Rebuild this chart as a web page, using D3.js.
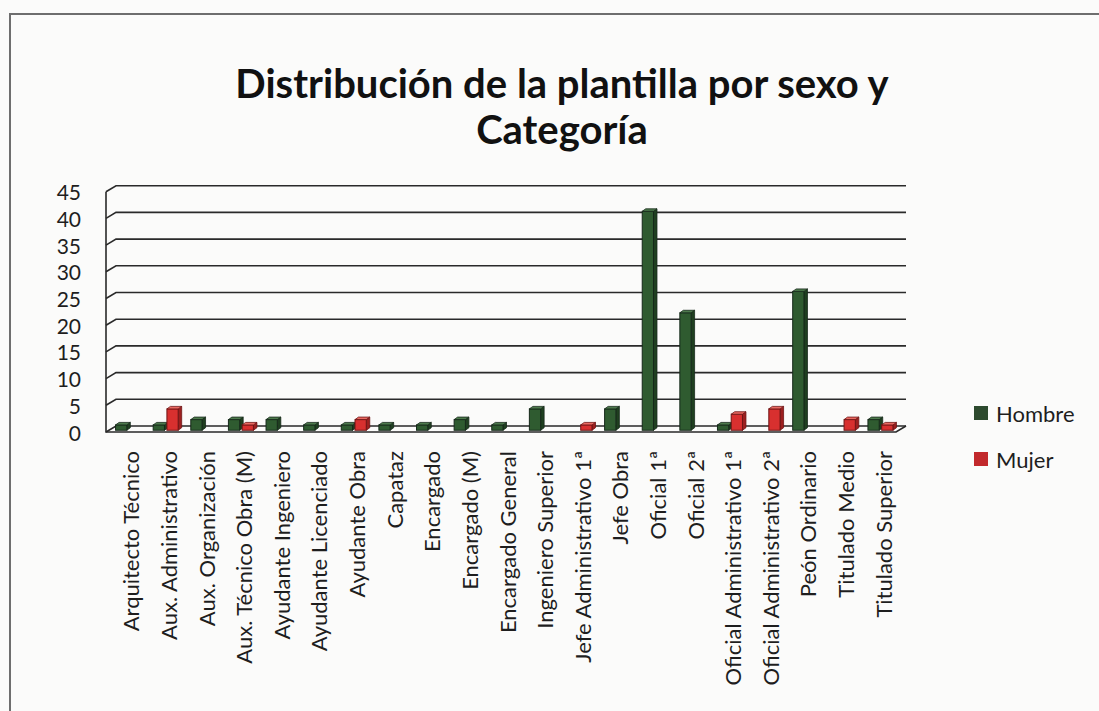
<!DOCTYPE html>
<html>
<head>
<meta charset="utf-8">
<script src="https://cdn.jsdelivr.net/npm/d3@7/dist/d3.min.js"></script>
<style>
  html, body { margin: 0; padding: 0; background: #fbfbfa; }
  svg { display: block; }
  text { font-family: Lato, "Open Sans", "DejaVu Sans", sans-serif; fill: #1e1e1e; }
</style>
</head>
<body>
<svg id="chart" width="1099" height="711"></svg>
<script>
// Plantilla por categoría profesional y sexo
const categories = [
  "Arquitecto Técnico", "Aux. Administrativo", "Aux. Organización",
  "Aux. Técnico Obra (M)", "Ayudante Ingeniero", "Ayudante Licenciado",
  "Ayudante Obra", "Capataz", "Encargado", "Encargado (M)",
  "Encargado General", "Ingeniero Superior", "Jefe Administrativo 1ª",
  "Jefe Obra", "Oficial 1ª", "Oficial 2ª", "Oficial Administrativo 1ª",
  "Oficial Administrativo 2ª", "Peón Ordinario", "Titulado Medio",
  "Titulado Superior"
];
const seriesNames = ["Hombre", "Mujer"];
const hombre = [1, 1, 2, 2, 2, 1, 1, 1, 1, 2, 1, 4, 0, 4, 41, 22, 1, 0, 26, 0, 2];
const mujer  = [0, 4, 0, 1, 0, 0, 2, 0, 0, 0, 0, 0, 1, 0, 0, 0, 3, 4, 0, 2, 1];
const yTicks = [0, 5, 10, 15, 20, 25, 30, 35, 40, 45];
const titleLines = ["Distribución de la plantilla por sexo y", "Categoría"];

const seriesValues = [hombre, mujer];
const colors = {
  Hombre: { front: "#2f5b30", top: "#4d7a4c", side: "#1f3f20", edge: "#16291a", key: "#2d4a2e" },
  Mujer:  { front: "#d8302f", top: "#ea6a62", side: "#9c1f1f", edge: "#6e1414", key: "#c2292c" }
};

const svg = d3.select("#chart");

// outer frame of the chart object
svg.append("path")
  .attr("d", "M10,711 L10,14 L1099,14")
  .attr("fill", "none").attr("stroke", "#6e6e6e").attr("stroke-width", 2);

// title
svg.append("g").selectAll("text").data(titleLines).join("text")
  .attr("x", 562).attr("y", (d, i) => 98 + i * 46)
  .attr("text-anchor", "middle")
  .style("font-size", "40px").style("font-weight", "700")
  .style("fill", "#111")
  .text(d => d);

// oblique 3D geometry: front plane, bars mid-depth, back wall
const depth = { dx: 10, dy: -6 };
const x = d3.scaleBand().domain(categories).range([106, 896]);
const y = d3.scaleLinear().domain([0, 45]).range([432, 191.7]);
const xs = d3.scaleBand().domain(seriesNames)
  .range([x.bandwidth() / 2 - 12.5, x.bandwidth() / 2 + 12.5]).paddingInner(0.18);

const walls = svg.append("g");
const x0 = x.range()[0], x1 = x.range()[1];

// gridlines on the back wall with their run along the side wall
walls.selectAll("path.grid").data(yTicks).join("path")
  .attr("class", "grid")
  .attr("d", v => `M${x0},${y(v)} L${x0 + depth.dx},${y(v) + depth.dy} L${x1 + depth.dx},${y(v) + depth.dy}`)
  .attr("fill", "none").attr("stroke", "#2a2a2a").attr("stroke-width", 1.6);

// side wall front edge and floor front edge
walls.append("path")
  .attr("d", `M${x0},${y(45)} L${x0},${y(0)} L${x1},${y(0)} L${x1 + depth.dx},${y(0) + depth.dy}`)
  .attr("fill", "none").attr("stroke", "#2a2a2a").attr("stroke-width", 1.6);

// y-axis labels
svg.append("g").selectAll("text").data(yTicks).join("text")
  .attr("x", 81).attr("y", v => y(v))
  .attr("text-anchor", "end").attr("dominant-baseline", "central")
  .style("font-size", "21px")
  .text(v => v);

// bars as small boxes: front face, right side, top
const bd = { dx: 3.5, dy: -2.5 };
const off = { dx: depth.dx / 2 - bd.dx / 2, dy: depth.dy / 2 - bd.dy / 2 };
const barData = [];
categories.forEach((c, i) => {
  seriesNames.forEach((s, k) => {
    const v = seriesValues[k][i];
    if (v > 0) barData.push({ c, s, v });
  });
});

const bars = svg.append("g").selectAll("g").data(barData).join("g")
  .attr("transform", d => `translate(${x(d.c) + xs(d.s) + off.dx},${off.dy})`);
const w = xs.bandwidth();
bars.append("path") // side face
  .attr("d", d => `M${w},${y(d.v)} L${w + bd.dx},${y(d.v) + bd.dy} L${w + bd.dx},${y(0) + bd.dy} L${w},${y(0)} Z`)
  .attr("fill", d => colors[d.s].side).attr("stroke", d => colors[d.s].edge).attr("stroke-width", 0.8);
bars.append("rect") // front face
  .attr("x", 0).attr("y", d => y(d.v)).attr("width", w).attr("height", d => y(0) - y(d.v))
  .attr("fill", d => colors[d.s].front).attr("stroke", d => colors[d.s].edge).attr("stroke-width", 1);
bars.append("path") // top face
  .attr("d", d => `M0,${y(d.v)} L${bd.dx},${y(d.v) + bd.dy} L${w + bd.dx},${y(d.v) + bd.dy} L${w},${y(d.v)} Z`)
  .attr("fill", d => colors[d.s].top).attr("stroke", d => colors[d.s].edge).attr("stroke-width", 0.8);

// category labels, rotated
svg.append("g").selectAll("text").data(categories).join("text")
  .attr("transform", c => `translate(${x(c) + x.bandwidth() / 2 + 6},451) rotate(-90)`)
  .attr("text-anchor", "end").attr("dominant-baseline", "central")
  .style("font-size", "22px")
  .text(c => c);

// legend
const legend = svg.append("g").selectAll("g").data(seriesNames).join("g")
  .attr("transform", (s, i) => `translate(974,${413 + i * 46})`);
legend.append("rect")
  .attr("x", 0).attr("y", -7).attr("width", 14).attr("height", 14)
  .attr("fill", s => colors[s].key);
legend.append("text")
  .attr("x", 22).attr("y", 0).attr("dominant-baseline", "central")
  .style("font-size", "22px")
  .text(s => s);
</script>
</body>
</html>
